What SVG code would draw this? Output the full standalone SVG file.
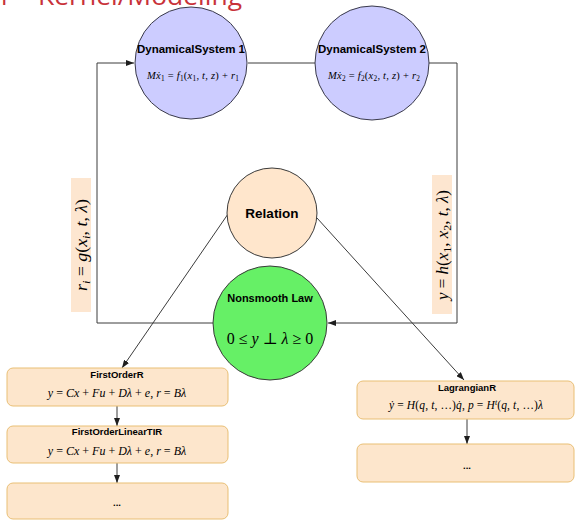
<svg xmlns="http://www.w3.org/2000/svg" width="575" height="520" viewBox="0 0 575 520">
  <defs>
    <style>
      .title { font-family: "Open Sans", "Liberation Sans", sans-serif; font-size: 26px; fill: #c8323a; }
      .ds { fill: #ccccff; stroke: #3a3a4a; stroke-width: 1; }
      .rel { fill: #ffe6cc; stroke: #3a3a3a; stroke-width: 1; }
      .nsl { fill: #66f066; stroke: #3a3a3a; stroke-width: 1; }
      .tag { fill: #fde6d0; stroke: none; }
      .box { fill: #fde6cc; stroke: #e9bf75; stroke-width: 1; }
      .lbl { font-family: "Liberation Sans", Arial, sans-serif; font-weight: bold; fill: #000; text-anchor: middle; }
      .m { font-family: "Liberation Serif", "DejaVu Serif", serif; fill: #000; text-anchor: middle; }
      .i { font-style: italic; }
      .sb { font-size: 70%; }
      .wire { fill: none; stroke: #3c3c3c; stroke-width: 1; }
    </style>
    <marker id="arr" viewBox="0 0 8 6" refX="8" refY="3" markerWidth="8" markerHeight="6" markerUnits="userSpaceOnUse" orient="auto">
      <path d="M0,0 L8,3 L0,6 z" fill="#1e1e1e"/>
    </marker>
  </defs>

  <rect width="575" height="520" fill="#ffffff"/>

  <!-- slide heading, clipped by the top edge -->
  <text class="title" x="-4" y="5" textLength="246" lengthAdjust="spacingAndGlyphs">1 – Kernel/Modeling</text>

  <!-- connectors -->
  <g id="connectors">
    <path class="wire" d="M248,63 H315"/>
    <path class="wire" d="M429,63 H457 V323 H328" marker-end="url(#arr)"/>
    <path class="wire" d="M213,323 H97 V63 H134" marker-end="url(#arr)"/>
    <path class="wire" d="M228,214 L122,368" marker-end="url(#arr)"/>
    <path class="wire" d="M317,218 L464,380" marker-end="url(#arr)"/>
    <path class="wire" d="M117,406 V426" marker-end="url(#arr)"/>
    <path class="wire" d="M117,463 V483" marker-end="url(#arr)"/>
    <path class="wire" d="M467,419 V444" marker-end="url(#arr)"/>
  </g>

  <!-- output / input relation labels on the loop -->
  <g id="label-r">
    <rect class="tag" x="71" y="178" width="20" height="134"/>
    <text class="m" font-size="16" transform="rotate(-90 81 245)" x="81" y="250.5" textLength="92" lengthAdjust="spacingAndGlyphs"><tspan class="i">r</tspan><tspan class="sb i" dy="3">i</tspan><tspan dy="-3"> = </tspan><tspan class="i">g</tspan>(<tspan class="i">x</tspan><tspan class="sb i" dy="3">i</tspan><tspan dy="-3">, </tspan><tspan class="i">t</tspan>, <tspan class="i">λ</tspan>)</text>
  </g>
  <g id="label-y">
    <rect class="tag" x="432" y="175" width="20" height="139"/>
    <text class="m" font-size="16" transform="rotate(-90 442 245)" x="442" y="250.5" textLength="110" lengthAdjust="spacingAndGlyphs"><tspan class="i">y</tspan> = <tspan class="i">h</tspan>(<tspan class="i">x</tspan><tspan class="sb" dy="3">1</tspan><tspan dy="-3">, </tspan><tspan class="i">x</tspan><tspan class="sb" dy="3">2</tspan><tspan dy="-3">, </tspan><tspan class="i">t</tspan>, <tspan class="i">λ</tspan>)</text>
  </g>

  <!-- dynamical systems -->
  <g id="ds1">
    <circle class="ds" cx="191" cy="63" r="56"/>
    <text class="lbl" x="191" y="53" font-size="11.5">DynamicalSystem 1</text>
    <text class="m" x="193" y="78.5" font-size="10.5" textLength="92" lengthAdjust="spacing"><tspan class="i">Mẋ</tspan><tspan class="sb" dy="2">1</tspan><tspan dy="-2"> = </tspan><tspan class="i">f</tspan><tspan class="sb" dy="2">1</tspan><tspan dy="-2">(</tspan><tspan class="i">x</tspan><tspan class="sb" dy="2">1</tspan><tspan dy="-2">, </tspan><tspan class="i">t</tspan>, <tspan class="i">z</tspan>) + <tspan class="i">r</tspan><tspan class="sb" dy="2">1</tspan></text>
  </g>
  <g id="ds2">
    <circle class="ds" cx="372" cy="63" r="57"/>
    <text class="lbl" x="372" y="53" font-size="11.5">DynamicalSystem 2</text>
    <text class="m" x="374" y="78.5" font-size="10.5" textLength="92" lengthAdjust="spacing"><tspan class="i">Mẋ</tspan><tspan class="sb" dy="2">2</tspan><tspan dy="-2"> = </tspan><tspan class="i">f</tspan><tspan class="sb" dy="2">2</tspan><tspan dy="-2">(</tspan><tspan class="i">x</tspan><tspan class="sb" dy="2">2</tspan><tspan dy="-2">, </tspan><tspan class="i">t</tspan>, <tspan class="i">z</tspan>) + <tspan class="i">r</tspan><tspan class="sb" dy="2">2</tspan></text>
  </g>

  <!-- relation and nonsmooth law -->
  <g id="relation">
    <circle class="rel" cx="272" cy="213" r="45"/>
    <text class="lbl" x="272" y="218" font-size="13.5">Relation</text>
  </g>
  <g id="nonsmooth-law">
    <circle class="nsl" cx="270" cy="323" r="57"/>
    <text class="lbl" x="270" y="302" font-size="11">Nonsmooth Law</text>
    <text class="m" x="270" y="344" font-size="16">0 ≤ <tspan class="i">y</tspan> ⊥ <tspan class="i">λ</tspan> ≥ 0</text>
  </g>

  <!-- first order relation branch -->
  <g id="first-order-r">
    <rect class="box" x="7" y="368" width="221" height="38" rx="6"/>
    <text class="lbl" x="117" y="377.5" font-size="9.5">FirstOrderR</text>
    <text class="m" x="117" y="397" font-size="12"><tspan class="i">y</tspan> = <tspan class="i">Cx</tspan> + <tspan class="i">Fu</tspan> + <tspan class="i">Dλ</tspan> + <tspan class="i">e</tspan>, <tspan class="i">r</tspan> = <tspan class="i">Bλ</tspan></text>
  </g>
  <g id="first-order-linear-tir">
    <rect class="box" x="7" y="426" width="221" height="37" rx="6"/>
    <text class="lbl" x="117" y="434.5" font-size="9.5">FirstOrderLinearTIR</text>
    <text class="m" x="117" y="455" font-size="12"><tspan class="i">y</tspan> = <tspan class="i">Cx</tspan> + <tspan class="i">Fu</tspan> + <tspan class="i">Dλ</tspan> + <tspan class="i">e</tspan>, <tspan class="i">r</tspan> = <tspan class="i">Bλ</tspan></text>
  </g>
  <g id="first-order-more">
    <rect class="box" x="7" y="483" width="221" height="36" rx="6"/>
    <text class="lbl" x="117" y="506" font-size="9.5">...</text>
  </g>

  <!-- lagrangian relation branch -->
  <g id="lagrangian-r">
    <rect class="box" x="357" y="381" width="217" height="38" rx="6"/>
    <text class="lbl" x="467" y="390.5" font-size="9.5">LagrangianR</text>
    <text class="m" x="466" y="409" font-size="11.5" textLength="154" lengthAdjust="spacing"><tspan class="i">ẏ</tspan> = <tspan class="i">H</tspan>(<tspan class="i">q</tspan>, <tspan class="i">t</tspan>, …)<tspan class="i">q̇</tspan>, <tspan class="i">p</tspan> = <tspan class="i">H</tspan><tspan class="sb i" dy="-4">t</tspan><tspan dy="4">(</tspan><tspan class="i">q</tspan>, <tspan class="i">t</tspan>, …)<tspan class="i">λ</tspan></text>
  </g>
  <g id="lagrangian-more">
    <rect class="box" x="357" y="444" width="217" height="38" rx="6"/>
    <text class="lbl" x="467" y="469" font-size="9.5">...</text>
  </g>
</svg>
